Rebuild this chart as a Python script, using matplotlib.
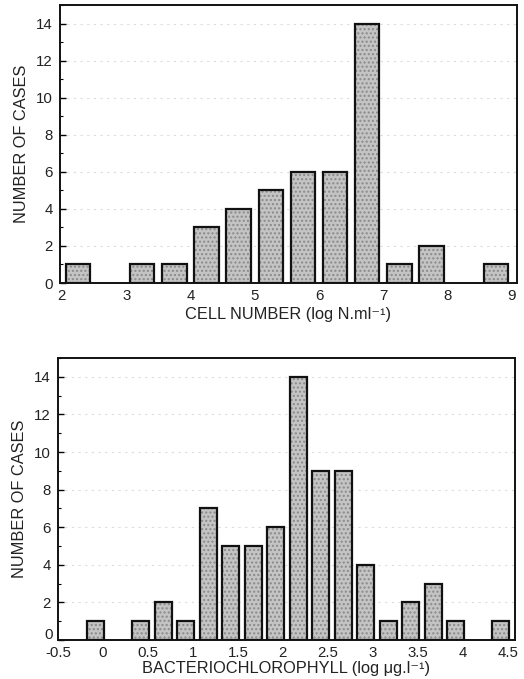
import numpy as np
import matplotlib
matplotlib.use("Agg")
import matplotlib.pyplot as plt
from matplotlib.ticker import MultipleLocator, FuncFormatter

plt.rcParams["font.family"] = ["Liberation Sans", "DejaVu Sans"]

# cell number histogram (log N per ml)
cell_bins = [2.25, 3.25, 3.75, 4.25, 4.75, 5.25, 5.75, 6.25, 6.75, 7.25, 7.75, 8.75]
cell_counts = [1, 1, 1, 3, 4, 5, 6, 6, 14, 1, 2, 1]
cell_ticks = [2, 3, 4, 5, 6, 7, 8, 9]

# bacteriochlorophyll histogram (log ug per l)
bchl_bins = [-0.08, 0.42, 0.67, 0.92, 1.17, 1.42, 1.67, 1.92, 2.17,
             2.42, 2.67, 2.92, 3.17, 3.42, 3.67, 3.92, 4.42]
bchl_counts = [1, 1, 2, 1, 7, 5, 5, 6, 14, 9, 9, 4, 1, 2, 3, 1, 1]
bchl_ticks = [-0.5, 0, 0.5, 1, 1.5, 2, 2.5, 3, 3.5, 4, 4.5]
bchl_ticklabels = ["-0.5", "0", "0.5", "1", "1.5", "2", "2.5", "3", "3.5", "4", "4.5"]

TEXT = "#222222"


def histogram(ax, x, counts, width, xlim, ticks, ticklabels, xlabel, xlabelpad):
    ax.bar(x, counts, width=width, facecolor="#c4c4c4", edgecolor="#8a8a8a",
           hatch="....", linewidth=0, zorder=2)
    ax.bar(x, counts, width=width, fill=False, edgecolor="#111111",
           linewidth=1.6, zorder=3)
    ax.set_xlim(*xlim)
    ax.set_ylim(0, 15)
    ax.set_xticks(ticks)
    ax.set_xticklabels(ticklabels)
    ax.yaxis.set_major_locator(MultipleLocator(2))
    ax.yaxis.set_minor_locator(MultipleLocator(1))
    ax.tick_params(axis="x", length=0, pad=4, labelsize=10.8, labelcolor=TEXT)
    ax.tick_params(axis="y", which="major", direction="in", length=4, width=1,
                   pad=5, labelsize=10.8, labelcolor=TEXT)
    ax.tick_params(axis="y", which="minor", direction="in", length=2, width=0.8)
    ax.yaxis.grid(True, linestyle=(0, (2, 4)), color="#dcdcdc", linewidth=0.8, zorder=0)
    for spine in ax.spines.values():
        spine.set_linewidth(1.4)
        spine.set_color("#111111")
    ax.set_xlabel(xlabel, fontsize=11.8, color=TEXT, labelpad=xlabelpad)
    ax.set_ylabel("NUMBER OF CASES", fontsize=11.8, color=TEXT, labelpad=5)


fig = plt.figure(figsize=(5.24, 6.79), dpi=100)
ax1 = fig.add_axes([0.1145, 0.5832, 0.872, 0.4094])
ax2 = fig.add_axes([0.1107, 0.0574, 0.872, 0.4153])

histogram(ax1, cell_bins, cell_counts, 0.38, (1.97, 9.08), cell_ticks,
          [str(t) for t in cell_ticks], "CELL NUMBER (log N.ml\u207b\u00b9)", 3)
histogram(ax2, bchl_bins, bchl_counts, 0.19, (-0.5, 4.58), bchl_ticks,
          bchl_ticklabels, "BACTERIOCHLOROPHYLL (log \u03bcg.l\u207b\u00b9)", 1)

# the zero count label sits on the axis line, above the -0.5 label
ax2.yaxis.set_major_formatter(FuncFormatter(lambda v, pos: "" if v == 0 else f"{v:g}"))
ax2.annotate("0", xy=(0, 0), xycoords=("axes fraction", "data"),
             xytext=(-3.6, 0.5), textcoords="offset points",
             ha="right", va="baseline", fontsize=10.8, color=TEXT)

fig.savefig("out.png", dpi=100)
